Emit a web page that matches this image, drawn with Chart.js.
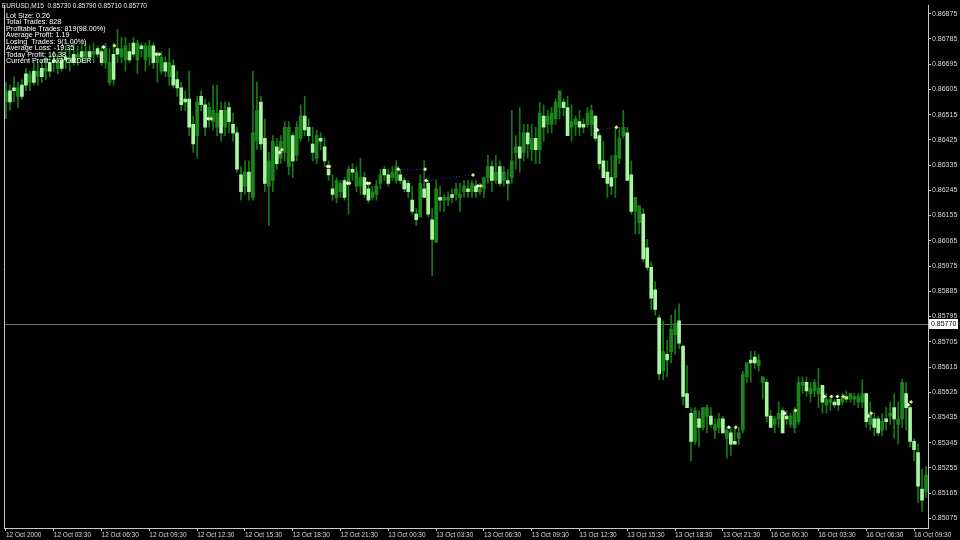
<!DOCTYPE html>
<html>
<head>
<meta charset="utf-8">
<script src="https://cdn.jsdelivr.net/npm/chart.js@4.4.0/dist/chart.umd.min.js"></script>
<style>
    html, body { margin: 0; padding: 0; background: #000; }
    canvas { display: block; }
</style>
</head>
<body>
<canvas id="myChart" width="960" height="540"></canvas>
<script>
// EURUSD M15, 12 Oct 2000 00:30 -> 16 Oct 2000 10:15, one value per bar

const opens = [
    0.8656, 0.8660, 0.8661, 0.8658, 0.8662, 0.8666, 0.8663, 0.8667, 0.8665, 0.8668,
    0.8667, 0.8670, 0.8671, 0.8668, 0.8671, 0.8672, 0.8670, 0.8673, 0.8672, 0.8674,
    0.8672, 0.8674, 0.8673, 0.8675, 0.8674, 0.8670, 0.8663, 0.8673, 0.8675, 0.8672,
    0.8671, 0.8674, 0.8677, 0.8671, 0.8676, 0.8671, 0.8672, 0.8676, 0.8670, 0.8667,
    0.8670, 0.8665, 0.8669, 0.8664, 0.8661, 0.8657, 0.8657, 0.8648, 0.8644, 0.8658,
    0.8655, 0.8650, 0.8649, 0.8647, 0.8653, 0.8647, 0.8654, 0.8648, 0.8645, 0.8630,
    0.8626, 0.8631, 0.8622, 0.8642, 0.8656, 0.8643, 0.8626, 0.8628, 0.8640, 0.8636,
    0.8638, 0.8633, 0.8644, 0.8637, 0.8643, 0.8651, 0.8647, 0.8641, 0.8636, 0.8643,
    0.8640, 0.8632, 0.8625, 0.8622, 0.8624, 0.8628, 0.8627, 0.8632, 0.8626, 0.8626,
    0.8629, 0.8625, 0.8622, 0.8623, 0.8627, 0.8632, 0.8630, 0.8629, 0.8628, 0.8630,
    0.8628, 0.8627, 0.8621, 0.8616, 0.8615, 0.8625, 0.8627, 0.8614, 0.8606, 0.8622,
    0.8621, 0.8621, 0.8623, 0.8623, 0.8622, 0.8624, 0.8625, 0.8624, 0.8626, 0.8624,
    0.8625, 0.8629, 0.8633, 0.8628, 0.8633, 0.8628, 0.8628, 0.8629, 0.8638, 0.8640,
    0.8638, 0.8645, 0.8639, 0.8643, 0.8639, 0.8651, 0.8648, 0.8648, 0.8650, 0.8654,
    0.8656, 0.8654, 0.8647, 0.8648, 0.8649, 0.8648, 0.8648, 0.8648, 0.8651, 0.8644,
    0.8635, 0.8631, 0.8629, 0.8629, 0.8636, 0.8644, 0.8645, 0.8630, 0.8617, 0.8613,
    0.8616, 0.8604, 0.8597, 0.8589, 0.8579, 0.8560, 0.8566, 0.8567, 0.8573, 0.8578,
    0.8569, 0.8552, 0.8545, 0.8535, 0.8543, 0.8540, 0.8544, 0.8544, 0.8539, 0.8540,
    0.8543, 0.8536, 0.8538, 0.8535, 0.8536, 0.8539, 0.8558, 0.8564, 0.8565, 0.8562,
    0.8556, 0.8556, 0.8544, 0.8541, 0.8543, 0.8546, 0.8544, 0.8541, 0.8540, 0.8542,
    0.8555, 0.8556, 0.8552, 0.8553, 0.8552, 0.8555, 0.8548, 0.8549, 0.8549, 0.8550,
    0.8549, 0.8551, 0.8550, 0.8550, 0.8549, 0.8549, 0.8552, 0.8541, 0.8543, 0.8543,
    0.8539, 0.8543, 0.8544, 0.8547, 0.8541, 0.8543, 0.8552, 0.8547, 0.8535, 0.8531,
    0.8518, 0.8517
];

const highs = [
    0.8663, 0.8662, 0.8665, 0.8663, 0.8664, 0.8668, 0.8667, 0.8670, 0.8670, 0.8671,
    0.8672, 0.8672, 0.8674, 0.8673, 0.8675, 0.8676, 0.8675, 0.8677, 0.8676, 0.8677,
    0.8677, 0.8676, 0.8677, 0.8676, 0.8676, 0.8677, 0.8675, 0.8677, 0.8682, 0.8679,
    0.8679, 0.8677, 0.8679, 0.8678, 0.8677, 0.8677, 0.8678, 0.8677, 0.8674, 0.8674,
    0.8672, 0.8675, 0.8671, 0.8667, 0.8663, 0.8660, 0.8667, 0.8651, 0.8658, 0.8660,
    0.8657, 0.8656, 0.8662, 0.8662, 0.8656, 0.8656, 0.8656, 0.8652, 0.8647, 0.8633,
    0.8635, 0.8635, 0.8667, 0.8663, 0.8658, 0.8650, 0.8638, 0.8644, 0.8643, 0.8644,
    0.8649, 0.8649, 0.8645, 0.8649, 0.8655, 0.8658, 0.8650, 0.8647, 0.8646, 0.8645,
    0.8643, 0.8635, 0.8630, 0.8629, 0.8628, 0.8629, 0.8633, 0.8634, 0.8633, 0.8636,
    0.8631, 0.8627, 0.8626, 0.8628, 0.8632, 0.8633, 0.8632, 0.8633, 0.8635, 0.8632,
    0.8629, 0.8628, 0.8626, 0.8618, 0.8630, 0.8635, 0.8628, 0.8618, 0.8628, 0.8626,
    0.8623, 0.8624, 0.8625, 0.8627, 0.8627, 0.8628, 0.8628, 0.8628, 0.8628, 0.8627,
    0.8629, 0.8637, 0.8635, 0.8637, 0.8635, 0.8633, 0.8632, 0.8653, 0.8644, 0.8654,
    0.8648, 0.8648, 0.8648, 0.8647, 0.8656, 0.8655, 0.8653, 0.8654, 0.8657, 0.8660,
    0.8657, 0.8658, 0.8655, 0.8651, 0.8653, 0.8650, 0.8654, 0.8655, 0.8651, 0.8645,
    0.8642, 0.8635, 0.8637, 0.8647, 0.8647, 0.8653, 0.8647, 0.8635, 0.8622, 0.8619,
    0.8618, 0.8607, 0.8599, 0.8592, 0.8580, 0.8578, 0.8571, 0.8580, 0.8582, 0.8584,
    0.8569, 0.8562, 0.8547, 0.8547, 0.8546, 0.8547, 0.8548, 0.8547, 0.8543, 0.8545,
    0.8544, 0.8540, 0.8540, 0.8540, 0.8540, 0.8560, 0.8563, 0.8567, 0.8567, 0.8566,
    0.8558, 0.8557, 0.8546, 0.8544, 0.8549, 0.8547, 0.8546, 0.8545, 0.8547, 0.8558,
    0.8558, 0.8558, 0.8556, 0.8557, 0.8561, 0.8555, 0.8552, 0.8551, 0.8550, 0.8550,
    0.8552, 0.8553, 0.8552, 0.8552, 0.8552, 0.8557, 0.8552, 0.8549, 0.8545, 0.8544,
    0.8545, 0.8547, 0.8549, 0.8552, 0.8549, 0.8557, 0.8556, 0.8548, 0.8536, 0.8534,
    0.8525, 0.8526
];

const lows = [
    0.8650, 0.8653, 0.8656, 0.8654, 0.8657, 0.8660, 0.8660, 0.8662, 0.8662, 0.8663,
    0.8664, 0.8665, 0.8667, 0.8666, 0.8667, 0.8668, 0.8667, 0.8669, 0.8669, 0.8670,
    0.8670, 0.8671, 0.8670, 0.8672, 0.8669, 0.8668, 0.8662, 0.8662, 0.8670, 0.8670,
    0.8667, 0.8670, 0.8672, 0.8666, 0.8672, 0.8667, 0.8669, 0.8668, 0.8663, 0.8666,
    0.8665, 0.8662, 0.8661, 0.8658, 0.8653, 0.8653, 0.8644, 0.8638, 0.8636, 0.8653,
    0.8644, 0.8647, 0.8646, 0.8644, 0.8642, 0.8644, 0.8645, 0.8642, 0.8631, 0.8621,
    0.8623, 0.8621, 0.8621, 0.8639, 0.8639, 0.8624, 0.8612, 0.8624, 0.8632, 0.8634,
    0.8635, 0.8630, 0.8629, 0.8635, 0.8642, 0.8644, 0.8642, 0.8635, 0.8634, 0.8639,
    0.8633, 0.8628, 0.8621, 0.8620, 0.8622, 0.8621, 0.8616, 0.8628, 0.8624, 0.8623,
    0.8622, 0.8620, 0.8621, 0.8621, 0.8625, 0.8628, 0.8626, 0.8628, 0.8627, 0.8627,
    0.8624, 0.8622, 0.8616, 0.8612, 0.8615, 0.8622, 0.8615, 0.8594, 0.8606, 0.8617,
    0.8617, 0.8619, 0.8620, 0.8621, 0.8617, 0.8622, 0.8622, 0.8622, 0.8622, 0.8623,
    0.8622, 0.8627, 0.8624, 0.8627, 0.8626, 0.8626, 0.8621, 0.8627, 0.8632, 0.8631,
    0.8635, 0.8636, 0.8635, 0.8634, 0.8634, 0.8642, 0.8645, 0.8645, 0.8648, 0.8650,
    0.8651, 0.8644, 0.8642, 0.8644, 0.8644, 0.8645, 0.8647, 0.8644, 0.8642, 0.8632,
    0.8629, 0.8622, 0.8623, 0.8622, 0.8634, 0.8643, 0.8628, 0.8616, 0.8609, 0.8609,
    0.8599, 0.8596, 0.8582, 0.8580, 0.8557, 0.8557, 0.8558, 0.8563, 0.8566, 0.8568,
    0.8548, 0.8547, 0.8528, 0.8534, 0.8533, 0.8539, 0.8538, 0.8540, 0.8536, 0.8538,
    0.8538, 0.8529, 0.8530, 0.8534, 0.8534, 0.8538, 0.8556, 0.8556, 0.8561, 0.8560,
    0.8550, 0.8542, 0.8540, 0.8538, 0.8540, 0.8538, 0.8541, 0.8540, 0.8538, 0.8541,
    0.8552, 0.8551, 0.8549, 0.8551, 0.8547, 0.8545, 0.8545, 0.8546, 0.8547, 0.8546,
    0.8548, 0.8549, 0.8549, 0.8548, 0.8547, 0.8547, 0.8540, 0.8539, 0.8537, 0.8537,
    0.8537, 0.8539, 0.8541, 0.8536, 0.8534, 0.8540, 0.8539, 0.8533, 0.8528, 0.8513,
    0.8510, 0.8515
];

const closes = [
    0.8660, 0.8656, 0.8660, 0.8661, 0.8658, 0.8662, 0.8666, 0.8663, 0.8667, 0.8665,
    0.8668, 0.8667, 0.8670, 0.8670, 0.8668, 0.8671, 0.8672, 0.8670, 0.8673, 0.8672,
    0.8674, 0.8672, 0.8674, 0.8673, 0.8670, 0.8675, 0.8670, 0.8664, 0.8673, 0.8675,
    0.8676, 0.8671, 0.8673, 0.8677, 0.8675, 0.8676, 0.8676, 0.8670, 0.8673, 0.8672,
    0.8667, 0.8670, 0.8662, 0.8661, 0.8655, 0.8656, 0.8647, 0.8641, 0.8656, 0.8655,
    0.8647, 0.8654, 0.8653, 0.8652, 0.8645, 0.8653, 0.8649, 0.8645, 0.8632, 0.8624,
    0.8631, 0.8624, 0.8645, 0.8653, 0.8641, 0.8627, 0.8635, 0.8642, 0.8634, 0.8642,
    0.8647, 0.8647, 0.8635, 0.8647, 0.8651, 0.8646, 0.8644, 0.8638, 0.8644, 0.8642,
    0.8635, 0.8630, 0.8623, 0.8628, 0.8627, 0.8622, 0.8632, 0.8631, 0.8631, 0.8629,
    0.8623, 0.8621, 0.8624, 0.8626, 0.8630, 0.8630, 0.8627, 0.8631, 0.8633, 0.8628,
    0.8625, 0.8624, 0.8617, 0.8614, 0.8627, 0.8622, 0.8616, 0.8607, 0.8625, 0.8621,
    0.8622, 0.8622, 0.8622, 0.8625, 0.8623, 0.8626, 0.8624, 0.8627, 0.8624, 0.8625,
    0.8629, 0.8633, 0.8628, 0.8631, 0.8627, 0.8631, 0.8627, 0.8635, 0.8640, 0.8636,
    0.8645, 0.8641, 0.8643, 0.8639, 0.8652, 0.8647, 0.8651, 0.8652, 0.8656, 0.8660,
    0.8654, 0.8644, 0.8649, 0.8650, 0.8647, 0.8647, 0.8652, 0.8653, 0.8643, 0.8634,
    0.8629, 0.8627, 0.8626, 0.8637, 0.8643, 0.8647, 0.8628, 0.8617, 0.8622, 0.8619,
    0.8600, 0.8597, 0.8586, 0.8582, 0.8559, 0.8567, 0.8564, 0.8575, 0.8577, 0.8570,
    0.8551, 0.8547, 0.8535, 0.8546, 0.8540, 0.8547, 0.8547, 0.8541, 0.8541, 0.8543,
    0.8538, 0.8539, 0.8534, 0.8534, 0.8538, 0.8559, 0.8563, 0.8563, 0.8563, 0.8564,
    0.8558, 0.8544, 0.8540, 0.8543, 0.8545, 0.8538, 0.8543, 0.8544, 0.8546, 0.8556,
    0.8556, 0.8553, 0.8554, 0.8556, 0.8554, 0.8549, 0.8550, 0.8550, 0.8548, 0.8548,
    0.8551, 0.8550, 0.8552, 0.8551, 0.8551, 0.8552, 0.8542, 0.8545, 0.8540, 0.8538,
    0.8542, 0.8542, 0.8545, 0.8543, 0.8543, 0.8556, 0.8547, 0.8535, 0.8532, 0.8519,
    0.8514, 0.8523
];

// trade arrows (bar position, price)
const openX = [24.5, 37.75, 50.75, 68.75, 80.75, 85.75, 90.75, 98.5, 105.5, 118.5, 148.5, 181.5, 195.5, 205.5, 208.75, 216.5, 226.5];
const openY = [0.86756, 0.8673, 0.8650, 0.8638, 0.8633, 0.8627, 0.8627, 0.8632, 0.8628, 0.8626, 0.8646, 0.8540, 0.8545, 0.8551, 0.8551, 0.8544, 0.8548];
const closeX = [27.25, 38.5, 51.5, 69.25, 81.25, 86.25, 91.25, 105.25, 117.25, 119.25, 153.25, 183.25, 198.25, 207.25, 210.25, 217.25, 227.25];
const closeY = [0.8676, 0.8673, 0.8650, 0.8639, 0.8633, 0.8627, 0.8627, 0.8632, 0.8630, 0.8626, 0.8647, 0.8540, 0.8546, 0.8551, 0.8551, 0.8545, 0.8549];
const linkedTrades = [0, 7, 8, 10];

const xTickBars = [0, 12, 24, 36, 48, 60, 72, 84, 96, 108, 120, 132, 144, 156, 168, 180, 192, 204, 216, 228];
const xTickLabels = [
    '12 Oct 2000', '12 Oct 03:30', '12 Oct 06:30', '12 Oct 09:30', '12 Oct 12:30',
    '12 Oct 15:30', '12 Oct 18:30', '12 Oct 21:30', '13 Oct 00:30', '13 Oct 03:30',
    '13 Oct 06:30', '13 Oct 09:30', '13 Oct 12:30', '13 Oct 15:30', '13 Oct 18:30',
    '13 Oct 21:30', '16 Oct 00:30', '16 Oct 03:30', '16 Oct 06:30', '16 Oct 09:30'
];
const yTicks = [
    0.86875, 0.86785, 0.86695, 0.86605, 0.86515, 0.86425, 0.86335, 0.86245, 0.86155, 0.86065,
    0.85975, 0.85885, 0.85795, 0.85705, 0.85615, 0.85525, 0.85435, 0.85345, 0.85255, 0.85165, 0.85075
];

const lastPrice = 0.8577;
const headerText = 'EURUSD,M15  0.85730 0.85790 0.85710 0.85770';
const infoLines = [
    'Lot Size: 0.26',
    'Total Trades: 828',
    'Profitable Trades: 819(98.00%)',
    'Average Profit: 1.19',
    'Losing  Trades: 9(1.00%)',
    'Average Loss: -19.35',
    'Today Profit: 16.38',
    'Current Profit: NO ORDER'
];

const FONT = 'Liberation Sans';
const BULL = '#1b841b';
const BEAR = '#a8f7a0';
const WICK = '#157a15';
const AXIS = '#c8c8c8';

const bodies = opens.map((o, i) => ({ x: i, y: [o, closes[i]] }));
const wicks = lows.map((l, i) => ({ x: i, y: [l, highs[i]] }));
const bodyColors = opens.map((o, i) => closes[i] < o ? BEAR : BULL);

const links = [];
linkedTrades.forEach(k => {
    links.push({ x: openX[k], y: openY[k] });
    links.push({ x: closeX[k], y: closeY[k] });
    links.push({ x: closeX[k], y: null });
});

// MT4 style extras: price line, frame, price box and the text block
const mtOverlay = {
    id: 'mtOverlay',
    beforeDatasetsDraw(chart) {
        const { ctx, chartArea: a, scales: { y } } = chart;
        const py = Math.round(y.getPixelForValue(lastPrice)) + 0.5;
        ctx.save();
        ctx.strokeStyle = '#6e6e6e';
        ctx.lineWidth = 1;
        ctx.beginPath();
        ctx.moveTo(a.left, py);
        ctx.lineTo(a.right, py);
        ctx.stroke();
        ctx.restore();
    },
    afterDraw(chart) {
        const { ctx, chartArea: a, scales: { y } } = chart;
        ctx.save();
        ctx.strokeStyle = AXIS;
        ctx.lineWidth = 1;
        ctx.beginPath();
        ctx.moveTo(a.left + 0.5, a.top);
        ctx.lineTo(a.left + 0.5, a.bottom);
        ctx.stroke();

        const py = Math.round(y.getPixelForValue(lastPrice));
        ctx.fillStyle = '#ffffff';
        ctx.fillRect(a.right + 1, py - 5, 29, 10);
        ctx.fillStyle = '#000000';
        ctx.font = '7px ' + FONT;
        ctx.textBaseline = 'middle';
        ctx.fillText(lastPrice.toFixed(5), a.right + 3, py);

        ctx.fillStyle = '#e8e8e8';
        ctx.font = '6.5px ' + FONT;
        ctx.fillText(headerText, 2, 6);
        ctx.fillStyle = '#ffffff';
        ctx.font = '7.2px ' + FONT;
        infoLines.forEach((t, k) => ctx.fillText(t, 6, 15.7 + k * 6.5));
        ctx.restore();
    }
};

new Chart(document.getElementById('myChart'), {
    type: 'bar',
    data: {
        datasets: [
            {
                type: 'scatter',
                data: openX.map((x, i) => ({ x: x, y: openY[i] })),
                pointStyle: 'rectRot',
                pointRadius: 2,
                backgroundColor: '#ffffff',
                borderWidth: 0,
                order: 0
            },
            {
                type: 'scatter',
                data: closeX.map((x, i) => ({ x: x, y: closeY[i] })),
                pointStyle: 'rectRot',
                pointRadius: 2,
                backgroundColor: '#f3e27c',
                borderWidth: 0,
                order: 0
            },
            {
                type: 'line',
                data: links,
                borderColor: '#2a38b0',
                borderWidth: 1,
                borderDash: [1, 2],
                pointRadius: 0,
                spanGaps: false,
                order: 1
            },
            {
                data: bodies,
                backgroundColor: bodyColors,
                barThickness: 3,
                minBarLength: 1,
                grouped: false,
                order: 2
            },
            {
                data: wicks,
                backgroundColor: WICK,
                barThickness: 1,
                grouped: false,
                order: 3
            }
        ]
    },
    options: {
        responsive: false,
        animation: false,
        devicePixelRatio: 1,
        layout: { padding: { left: 0, top: 3, right: 0, bottom: 0 } },
        plugins: { legend: { display: false }, tooltip: { enabled: false } },
        scales: {
            x: {
                type: 'linear',
                min: -0.5,
                max: 231.5,
                offset: false,
                afterBuildTicks: s => { s.ticks = xTickBars.map(v => ({ value: v })); },
                afterFit: s => { s.height = 12; },
                ticks: {
                    autoSkip: false,
                    maxRotation: 0,
                    align: 'start',
                    padding: 0,
                    color: '#d8d8d8',
                    font: { family: FONT, size: 6.5 },
                    callback: (v, i) => xTickLabels[i]
                },
                grid: { drawOnChartArea: false, tickLength: 3, color: AXIS, offset: false },
                border: { color: AXIS }
            },
            y: {
                position: 'right',
                min: 0.85041,
                max: 0.86905,
                afterBuildTicks: s => { s.ticks = yTicks.map(v => ({ value: v })); },
                afterFit: s => { s.width = 32; },
                ticks: {
                    padding: 1,
                    color: '#d8d8d8',
                    font: { family: FONT, size: 7 },
                    callback: v => v.toFixed(5)
                },
                grid: { drawOnChartArea: false, tickLength: 3, color: AXIS },
                border: { color: AXIS }
            }
        }
    },
    plugins: [mtOverlay]
});
</script>
</body>
</html>
